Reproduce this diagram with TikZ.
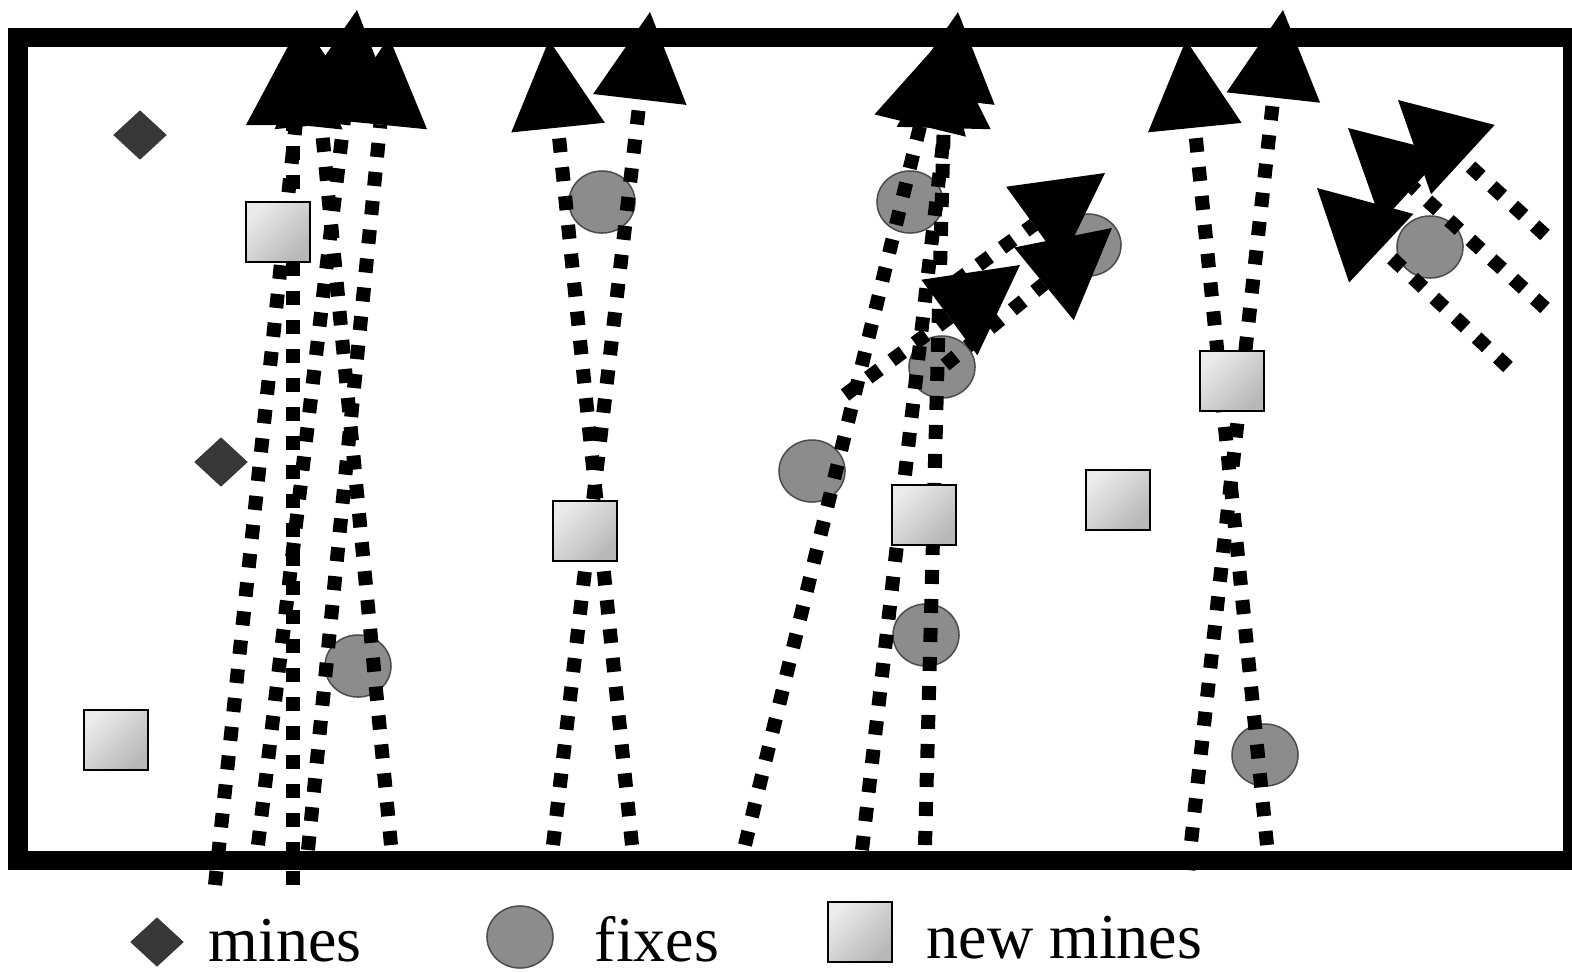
\documentclass[tikz,border=0pt]{standalone}
\usepackage{fontspec}
\setmainfont{Liberation Serif}
\usetikzlibrary{arrows.meta}
\usetikzlibrary{shapes.geometric}

\tikzset{
  track/.style={line width=0.14cm, dash pattern=on 0.14cm off 0.15cm},
  trackup/.style={track, -{Triangle[length=0.88cm, width=0.94cm, line width=0pt]}},
  mine/.style={diamond, fill=black!78, draw=black!78, minimum width=0.52cm, minimum height=0.48cm, inner sep=0pt},
  fix/.style={ellipse, fill=black!45, draw=black!70, line width=0.015cm, minimum width=0.66cm, minimum height=0.62cm, inner sep=0pt},
  newmine/.style={draw=black, line width=0.025cm, top color=black!8, bottom color=black!28, shading angle=45, minimum width=0.64cm, minimum height=0.6cm, inner sep=0pt},
  legendtext/.style={anchor=base west, inner sep=0pt, font=\fontsize{18.2}{22}\selectfont}
}

\begin{document}
\begin{tikzpicture}[x=0.01cm, y=-0.01cm]
\useasboundingbox (0,0) rectangle (1572,972);

\draw [line width=0.19cm] (18,37) rectangle (1572,860);

% fixes lie under the tracks
\node[fix] (fixa) at (602,202) {};
\node[fix] (fixb) at (358,666) {};
\node[fix] (fixc) at (910,202) {};
\node[fix] (fixd) at (942,367) {};
\node[fix] (fixe) at (812,471) {};
\node[fix] (fixf) at (926,635) {};
\node[fix] (fixg) at (1088,245) {};
\node[fix] (fixh) at (1430,247) {};
\node[fix] (fixi) at (1265,755) {};

% tracks
\draw [trackup] (215,885) -- (305,37);
\draw [trackup] (293,885) -- (293,37);
\draw [trackup] (258,845) -- (357,10);
\draw [trackup] (391,845) -- (313,37);
\draw [trackup] (308,850) -- (389,37);

\draw [trackup] (632,845) -- (549,40);
\draw [trackup] (553,845) -- (650,12);

\draw [trackup] (745,845) -- (941,40);
\draw [trackup] (862,850) -- (958,12);
\draw [trackup] (925,845) -- (946,40);
\draw [trackup] (845,395) -- (1020,265);
\draw [trackup] (955,282) -- (1105,173);
\draw [trackup] (945,365) -- (1112,228);

\draw [trackup] (1188,870) -- (1283,10);
\draw [trackup] (1267,845) -- (1186,40);

\draw [trackup] (1545,235) -- (1398,100);
\draw [trackup] (1545,308) -- (1348,128);
\draw [trackup] (1508,367) -- (1317,188);

% mines and new mines on top
\node[mine] (minea) at (140,135) {};
\node[mine] (mineb) at (221,462) {};

\node[newmine] (newa) at (278,232) {};
\node[newmine] (newb) at (116,740) {};
\node[newmine] (newc) at (585,531) {};
\node[newmine] (newd) at (924,515) {};
\node[newmine] (newe) at (1118,500) {};
\node[newmine] (newf) at (1232,381) {};

% legend
\node[mine] (keymine) at (157,942) {};
\node[legendtext] (keyminetext) at (208,961) {mines};
\node[fix] (keyfix) at (520,937) {};
\node[legendtext] (keyfixtext) at (594,961) {fixes};
\node[newmine] (keynew) at (860,932) {};
\node[legendtext] (keynewtext) at (926,958) {new mines};
\end{tikzpicture}
\end{document}
